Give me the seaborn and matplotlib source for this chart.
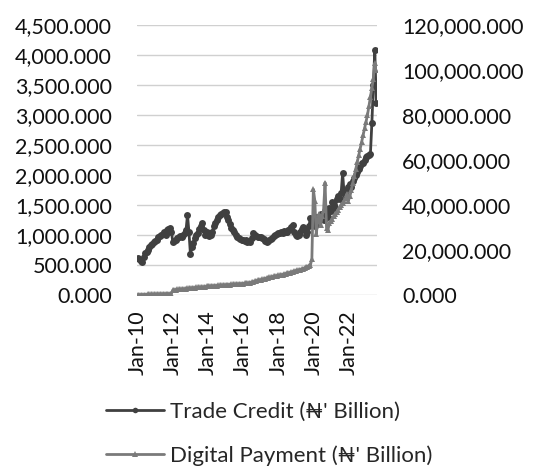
import numpy as np
import pandas as pd
import matplotlib
matplotlib.use("Agg")
import matplotlib.pyplot as plt
import seaborn as sns
from matplotlib.ticker import FuncFormatter

# monthly data, Jan-2010 .. Aug-2023
months = pd.date_range("2010-01-01", "2023-08-01", freq="MS").strftime("%b-%y").tolist()

trade_credit = [
    620, 600, 570, 550, 640, 700, 720, 750, 800, 830, 850, 880,
    900, 920, 960, 980, 1000, 1020, 1050, 1000, 1080, 1100, 1117, 1050,
    880, 900, 920, 950, 970, 990, 960, 1000, 1030, 1080, 1333, 1050,
    683, 800, 870, 950, 1000, 1030, 1100, 1150, 1200, 1080, 1000, 1050,
    1000, 980, 1000, 1050, 1150, 1200, 1250, 1300, 1333, 1350, 1370, 1383,
    1383, 1300, 1250, 1180, 1120, 1083, 1050, 1000, 967, 950, 930, 917,
    917, 900, 920, 890, 900, 883, 950, 1033, 1000, 980, 970, 960,
    967, 950, 930, 900, 883, 900, 920, 940, 950, 980, 1000, 1010,
    1033, 1040, 1050, 1030, 1060, 1050, 1050, 1080, 1100, 1133, 1167, 1050,
    1000, 980, 1000, 1050, 1100, 1133, 1100, 1000, 1050, 1150, 1283, 1200,
    1250, 1150, 1300, 1180, 1250, 1350, 1300, 1250, 1400, 1350, 1300, 1450,
    1400, 1550, 1500, 1450, 1600, 1650, 1600, 1700, 2030, 1700, 1650, 1750,
    1800, 1850, 1800, 1900, 1950, 2000, 2050, 2100, 2150, 2200, 2200, 2250,
    2300, 2320, 2330, 2350, 2870, 3500, 4080, 3200,
]

digital_payment = [
    100, 120, 140, 160, 180, 200, 220, 250, 270, 300, 320, 350,
    380, 400, 420, 450, 480, 500, 520, 550, 580, 600, 620, 650,
    2200, 2300, 2400, 2500, 2550, 2600, 2650, 2700, 2750, 2800, 2900, 3000,
    3100, 3150, 3200, 3300, 3350, 3400, 3450, 3500, 3550, 3600, 3700, 3800,
    3900, 3950, 4000, 4050, 4100, 4150, 4200, 4250, 4300, 4350, 4400, 4450,
    4500, 4550, 4600, 4650, 4700, 4750, 4800, 4850, 4900, 4950, 5000, 5050,
    5100, 5150, 5200, 5300, 5400, 5500, 5700, 5900, 6100, 6300, 6500, 6700,
    6700, 6900, 7100, 7300, 7500, 7700, 7800, 7900, 8100, 8300, 8400, 8600,
    8700, 8800, 9000, 9100, 9300, 9500, 9600, 9800, 10000, 10200, 10400, 10600,
    10800, 11000, 11100, 11300, 11500, 11700, 12000, 12300, 12600, 13000, 13300, 16000,
    47000, 42000, 27000, 33000, 36000, 31000, 35000, 38000, 50000, 30000, 29000, 32000,
    33000, 34000, 35000, 36000, 37000, 38000, 39000, 40000, 41000, 42000, 43000, 45000,
    42000, 44000, 46500, 50000, 53000, 56000, 59000, 62000, 65000, 68000, 71000, 74000,
    77000, 80000, 84000, 88000, 92000, 96000, 103000, 100000,
]

tick_labels = ["Jan-10", "Jan-12", "Jan-14", "Jan-16", "Jan-18", "Jan-20", "Jan-22"]

df = pd.DataFrame({"idx": np.arange(len(months)), "month": months,
                   "tc": trade_credit, "dp": digital_payment})

sns.set_style("white")
plt.rcParams["font.family"] = ["Lato", "DejaVu Sans"]

fig = plt.figure(figsize=(5.34, 4.69), dpi=100)
ax = fig.add_axes([137 / 534, 1 - 295 / 469, 240 / 534, 270 / 469])
ax2 = ax.twinx()

sns.lineplot(data=df, x="idx", y="tc", ax=ax, color="#404040", linewidth=2.0,
             marker="o", markersize=5, markeredgewidth=0, label="Trade Credit (₦' Billion)",
             legend=False)
sns.lineplot(data=df, x="idx", y="dp", ax=ax2, color="#7a7a7a", linewidth=2.0,
             marker="^", markersize=5, markeredgewidth=0, label="Digital Payment (₦' Billion)",
             legend=False)

ax.set_ylim(0, 4500)
ax.set_yticks(np.arange(0, 4501, 500))
ax2.set_ylim(0, 120000)
ax2.set_yticks(np.arange(0, 120001, 20000))
fmt = FuncFormatter(lambda v, p: f"{v:,.3f}")
ax.yaxis.set_major_formatter(fmt)
ax2.yaxis.set_major_formatter(fmt)

ax.set_xlim(-0.5, len(months) - 0.5)
ax.set_xticks([months.index(t) for t in tick_labels])
ax.set_xticklabels(tick_labels, rotation=90, ha="center", va="top")

ax.grid(axis="y", color="#d0d0d0", linewidth=1)
ax.set_axisbelow(True)
for a in (ax, ax2):
    for s in a.spines.values():
        s.set_visible(False)
    a.set_xlabel("")
    a.set_ylabel("")
ax.tick_params(axis="y", length=0, pad=18, labelsize=15.5, colors="#111111")
ax2.tick_params(axis="y", length=0, pad=18, labelsize=15.5, colors="#111111")
ax.tick_params(axis="x", length=0, pad=11, labelsize=15.5, colors="#111111")

h1, l1 = ax.get_legend_handles_labels()
h2, l2 = ax2.get_legend_handles_labels()
fig.legend(h1 + h2, l1 + l2, loc="upper left", bbox_to_anchor=(86 / 534, 1 - 382 / 469),
           frameon=False, fontsize=16, handlelength=2.6, handletextpad=0.3,
           labelspacing=1.05, markerscale=0.8)

fig.savefig("out.png", dpi=100)
